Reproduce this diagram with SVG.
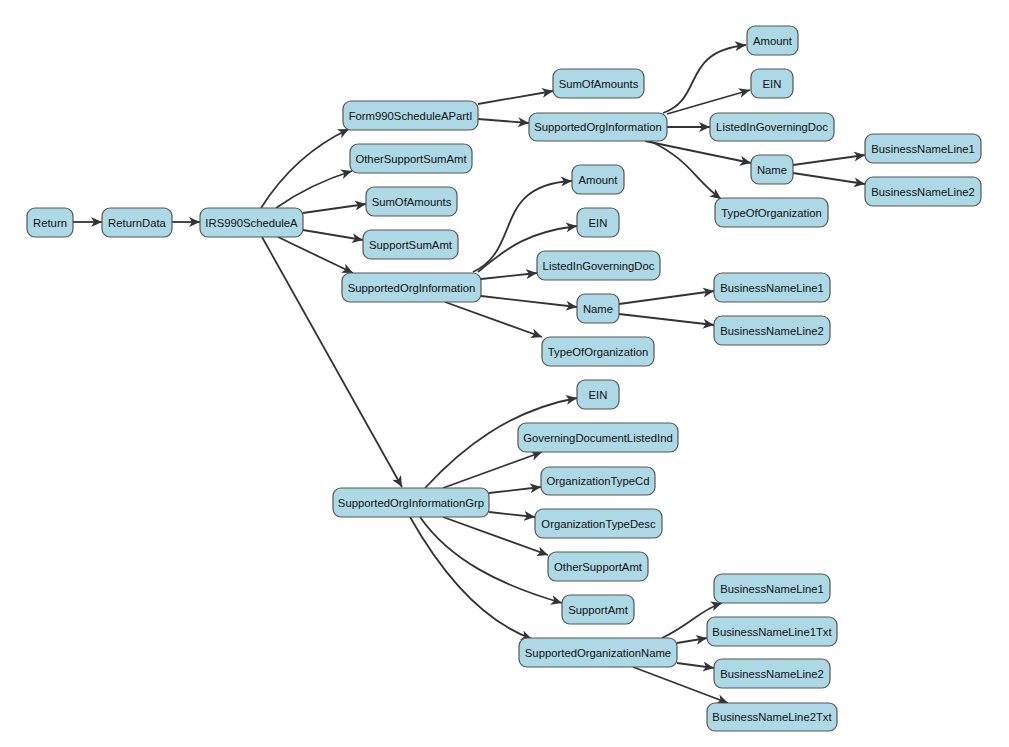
<svg xmlns="http://www.w3.org/2000/svg" width="1009" height="747" viewBox="0 0 1009 747">
<style>
.n rect{fill:#add8e6;stroke:#555;stroke-width:1.2}
.n text{font-family:"Liberation Sans",Arial,sans-serif;font-size:11.3px;fill:#111;text-anchor:middle;dominant-baseline:central}
#edges path{fill:none;stroke:#333;stroke-width:1.8;marker-end:url(#arr)}
</style>
<defs>
<marker id="arr" markerUnits="userSpaceOnUse" markerWidth="12" markerHeight="10" refX="11" refY="5" orient="auto">
<path d="M0,0 L11,5 L0,10 L3,5 Z" fill="#333"/>
</marker>
</defs>
<rect width="1009" height="747" fill="#fff"/>
<g id="edges">
<path d="M73,222 L102,222"/>
<path d="M172,222 L200,222"/>
<path d="M261,208 C285,170 315,145 349,129"/>
<path d="M276,208 Q310,184 352,171"/>
<path d="M303,213 L366,204"/>
<path d="M303,230 L363,240"/>
<path d="M278,237 L353,273"/>
<path d="M262,237 L402,487"/>
<path d="M478,104 L553,91"/>
<path d="M478,119 L529,123"/>
<path d="M663,113 C705,98 680,52 746,45"/>
<path d="M667,114 L750,90"/>
<path d="M667,127 L710,127"/>
<path d="M645,141 L751,163"/>
<path d="M650,141 C690,160 695,180 721,199"/>
<path d="M793,165 L865,155"/>
<path d="M793,173 L865,184"/>
<path d="M473,272 C522,250 492,185 572,181"/>
<path d="M478,272 C510,245 530,232 577,226"/>
<path d="M481,279 L537,273"/>
<path d="M481,296 L577,307"/>
<path d="M445,302 L542,337"/>
<path d="M619,304 L714,291"/>
<path d="M619,314 L714,325"/>
<path d="M425,488 C462,448 510,410 577,398"/>
<path d="M443,488 L542,452"/>
<path d="M489,493 L541,487"/>
<path d="M489,512 L535,517"/>
<path d="M443,517 L548,555"/>
<path d="M420,517 C450,560 500,585 562,603"/>
<path d="M410,517 C440,570 480,620 532,639"/>
<path d="M662,638 C690,625 700,610 722,603"/>
<path d="M677,643 L707,638"/>
<path d="M677,663 L714,668"/>
<path d="M633,667 L728,703"/>
</g>
<g id="n_Return" class="n"><rect x="27" y="208" width="46" height="29" rx="8"/><text x="50" y="222.5">Return</text></g>
<g id="n_ReturnData" class="n"><rect x="102" y="208" width="70" height="29" rx="8"/><text x="137" y="222.5">ReturnData</text></g>
<g id="n_IRS990ScheduleA" class="n"><rect x="200" y="208" width="103" height="29" rx="8"/><text x="251.5" y="222.5">IRS990ScheduleA</text></g>
<g id="n_Form990ScheduleAPartI" class="n"><rect x="343" y="101" width="135" height="29" rx="8"/><text x="410.5" y="115.5">Form990ScheduleAPartI</text></g>
<g id="n_OtherSupportSumAmt" class="n"><rect x="350" y="144" width="122" height="29" rx="8"/><text x="411" y="158.5">OtherSupportSumAmt</text></g>
<g id="n_SumOfAmounts2" class="n"><rect x="366" y="187" width="91" height="29" rx="8"/><text x="411.5" y="201.5">SumOfAmounts</text></g>
<g id="n_SupportSumAmt" class="n"><rect x="363" y="230" width="95" height="29" rx="8"/><text x="410.5" y="244.5">SupportSumAmt</text></g>
<g id="n_SupportedOrgInformation2" class="n"><rect x="342" y="273" width="139" height="29" rx="8"/><text x="411.5" y="287.5">SupportedOrgInformation</text></g>
<g id="n_SupportedOrgInformationGrp" class="n"><rect x="333" y="488" width="156" height="29" rx="8"/><text x="411" y="502.5">SupportedOrgInformationGrp</text></g>
<g id="n_SumOfAmounts1" class="n"><rect x="553" y="69" width="91" height="29" rx="8"/><text x="598.5" y="83.5">SumOfAmounts</text></g>
<g id="n_SupportedOrgInformation1" class="n"><rect x="529" y="113" width="138" height="28" rx="8"/><text x="598" y="127">SupportedOrgInformation</text></g>
<g id="n_Amount1" class="n"><rect x="747" y="26" width="51" height="29" rx="8"/><text x="772.5" y="40.5">Amount</text></g>
<g id="n_EIN1" class="n"><rect x="751" y="69" width="42" height="29" rx="8"/><text x="772" y="83.5">EIN</text></g>
<g id="n_ListedInGoverningDoc1" class="n"><rect x="710" y="113" width="124" height="28" rx="8"/><text x="772" y="127">ListedInGoverningDoc</text></g>
<g id="n_Name1" class="n"><rect x="751" y="155" width="42" height="29" rx="8"/><text x="772" y="169.5">Name</text></g>
<g id="n_TypeOfOrganization1" class="n"><rect x="715" y="198" width="113" height="29" rx="8"/><text x="771.5" y="212.5">TypeOfOrganization</text></g>
<g id="n_BusinessNameLine1a" class="n"><rect x="865" y="134" width="116" height="29" rx="8"/><text x="923" y="148.5">BusinessNameLine1</text></g>
<g id="n_BusinessNameLine2a" class="n"><rect x="865" y="177" width="116" height="29" rx="8"/><text x="923" y="191.5">BusinessNameLine2</text></g>
<g id="n_Amount2" class="n"><rect x="572" y="165" width="52" height="29" rx="8"/><text x="598" y="179.5">Amount</text></g>
<g id="n_EIN2" class="n"><rect x="577" y="208" width="42" height="29" rx="8"/><text x="598" y="222.5">EIN</text></g>
<g id="n_ListedInGoverningDoc2" class="n"><rect x="537" y="251" width="123" height="29" rx="8"/><text x="598.5" y="265.5">ListedInGoverningDoc</text></g>
<g id="n_Name2" class="n"><rect x="577" y="294" width="42" height="29" rx="8"/><text x="598" y="308.5">Name</text></g>
<g id="n_TypeOfOrganization2" class="n"><rect x="542" y="337" width="112" height="29" rx="8"/><text x="598" y="351.5">TypeOfOrganization</text></g>
<g id="n_BusinessNameLine1b" class="n"><rect x="714" y="273" width="116" height="29" rx="8"/><text x="772" y="287.5">BusinessNameLine1</text></g>
<g id="n_BusinessNameLine2b" class="n"><rect x="714" y="316" width="116" height="29" rx="8"/><text x="772" y="330.5">BusinessNameLine2</text></g>
<g id="n_EIN3" class="n"><rect x="577" y="380" width="42" height="29" rx="8"/><text x="598" y="394.5">EIN</text></g>
<g id="n_GoverningDocumentListedInd" class="n"><rect x="518" y="423" width="160" height="29" rx="8"/><text x="598" y="437.5">GoverningDocumentListedInd</text></g>
<g id="n_OrganizationTypeCd" class="n"><rect x="541" y="467" width="114" height="28" rx="8"/><text x="598" y="481">OrganizationTypeCd</text></g>
<g id="n_OrganizationTypeDesc" class="n"><rect x="535" y="509" width="127" height="29" rx="8"/><text x="598.5" y="523.5">OrganizationTypeDesc</text></g>
<g id="n_OtherSupportAmt" class="n"><rect x="548" y="552" width="100" height="29" rx="8"/><text x="598" y="566.5">OtherSupportAmt</text></g>
<g id="n_SupportAmt" class="n"><rect x="562" y="595" width="72" height="29" rx="8"/><text x="598" y="609.5">SupportAmt</text></g>
<g id="n_SupportedOrganizationName" class="n"><rect x="519" y="638" width="158" height="29" rx="8"/><text x="598" y="652.5">SupportedOrganizationName</text></g>
<g id="n_BusinessNameLine1c" class="n"><rect x="714" y="574" width="116" height="29" rx="8"/><text x="772" y="588.5">BusinessNameLine1</text></g>
<g id="n_BusinessNameLine1Txt" class="n"><rect x="707" y="617" width="130" height="29" rx="8"/><text x="772" y="631.5">BusinessNameLine1Txt</text></g>
<g id="n_BusinessNameLine2c" class="n"><rect x="714" y="659" width="116" height="29" rx="8"/><text x="772" y="673.5">BusinessNameLine2</text></g>
<g id="n_BusinessNameLine2Txt" class="n"><rect x="707" y="703" width="130" height="28" rx="8"/><text x="772" y="717">BusinessNameLine2Txt</text></g>
</svg>
